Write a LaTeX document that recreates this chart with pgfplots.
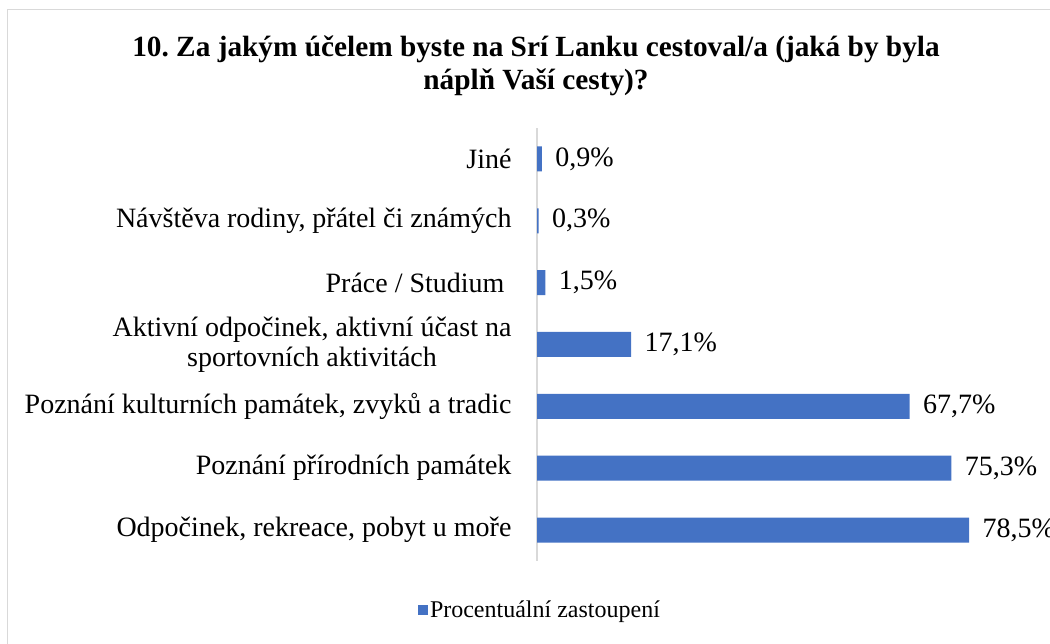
\documentclass[border=0pt]{standalone}
\usepackage{pgfplots}
\pgfplotsset{compat=1.18}
\usepackage{fontspec}
\setmainfont{Liberation Serif}
\frenchspacing
\definecolor{barblue}{HTML}{4472C4}
\definecolor{framegray}{HTML}{D9D9D9}
\begin{document}
\begin{tikzpicture}[x=1bp,y=1bp]
\useasboundingbox (0,0) rectangle (1050,644);
\draw[framegray, line width=1.5bp] (1100,634.5) -- (7.5,634.5) -- (7.5,-50);
\node[font=\fontsize{29.3bp}{33bp}\selectfont\bfseries, align=center] at (536,578)
  {10. Za jakým účelem byste na Srí Lanku cestoval/a (jaká by byla\\náplň Vaší cesty)?};
\begin{axis}[
  at={(537bp,83bp)}, anchor=south west,
  scale only axis, width=495.3bp, height=433bp,
  xbar, bar width=25bp,
  xmin=0, xmax=90,
  ymin=-0.5, ymax=6.5,
  hide x axis,
  axis y line*=left,
  y axis line style={draw=framegray, line width=1.5bp, -},
  ytick={0,1,2,3,4,5,6},
  yticklabels={
    {Odpočinek, rekreace, pobyt u moře},
    {Poznání přírodních památek},
    {Poznání kulturních památek, zvyků a tradic},
    {Aktivní odpočinek, aktivní účast na\\sportovních aktivitách},
    {Práce / Studium\hspace*{7bp}},
    {Návštěva rodiny, přátel či známých},
    {Jiné}},
  major tick length=0pt,
  yticklabel style={font=\fontsize{28bp}{30bp}\selectfont, align=center, xshift=-22bp},
  nodes near coords={\pgfmathprintnumber[fixed,fixed zerofill,precision=1,use comma,assume math mode=true]{\pgfplotspointmeta}\%},
  nodes near coords style={font=\fontsize{28bp}{30bp}\selectfont, anchor=west, text=black, xshift=10bp},
  legend style={at={(0.006,-0.113)}, anchor=center, draw=none,
    font=\fontsize{24bp}{28bp}\selectfont, inner sep=0pt},
  legend image code/.code={\fill[barblue] (0bp,-5bp) rectangle (10bp,5bp);},
  clip=false,
]
\addplot[fill=barblue, draw=none] coordinates {
  (78.5,0) (75.3,1) (67.7,2) (17.1,3) (1.5,4) (0.3,5) (0.9,6)
};
\addlegendentry{Procentuální zastoupení}
\end{axis}
\end{tikzpicture}
\end{document}
